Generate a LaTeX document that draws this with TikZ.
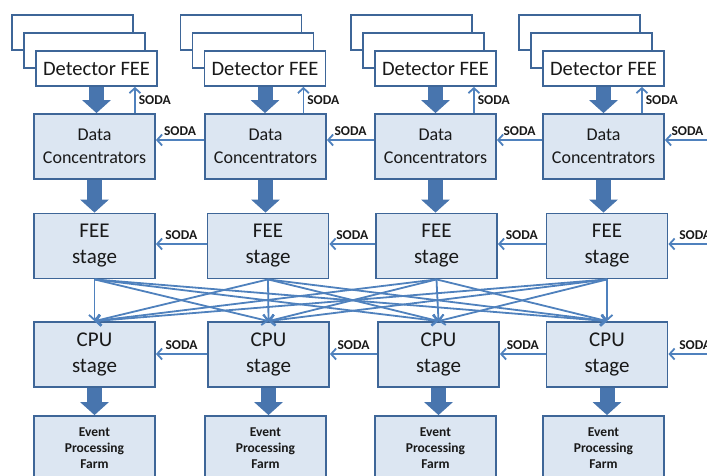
\documentclass[tikz,border=0pt]{standalone}
\usepackage{fontspec}
\setmainfont{Carlito}
\usetikzlibrary{arrows.meta, calc, positioning}
\definecolor{edgeblue}{RGB}{62, 102, 152}
\definecolor{linkblue}{RGB}{79, 129, 189}
\definecolor{fatblue}{RGB}{72, 117, 174}
\definecolor{shadeblue}{RGB}{220, 230, 242}
\definecolor{inkgray}{RGB}{25, 25, 25}

\begin{document}
\begin{tikzpicture}[x=1pt, y=-1pt,
	dbox/.style={draw=edgeblue, fill=white, line width=1.8pt,
		minimum width=121pt, minimum height=35pt, inner sep=0pt,
		text=inkgray, font=\fontsize{20.5}{24}\selectfont},
	bbox/.style={draw=edgeblue, fill=shadeblue, line width=1.8pt,
		minimum width=121pt, minimum height=65pt, inner sep=0pt,
		text=inkgray, align=center},
	dcfont/.style={font=\fontsize{18}{23}\selectfont},
	stfont/.style={font=\fontsize{21}{26}\selectfont},
	epfont/.style={font=\bfseries\fontsize{13.5}{16}\selectfont},
	soda/.style={font=\bfseries\fontsize{13.5}{15}\selectfont, inner sep=0pt, text=inkgray},
	arr/.style={-{Triangle[length=13pt, width=28pt]}, line width=15pt, fatblue},
	sarr/.style={-{Straight Barb[length=5pt, width=11pt]}, line width=1.8pt, linkblue}
	]
	\useasboundingbox (0,0) rectangle (707,475);
	\clip (0,0) rectangle (707,475);
	% detector front ends, stacked
	\node[dbox] (det1c) at (72.5, 32.5) {};
	\node[dbox] (det1b) at (84.5, 50.5) {};
	\node[dbox] (det1)  at (96.5, 68.5) {Detector FEE};
	\node[dbox] (det2c) at (241, 32.5) {};
	\node[dbox] (det2b) at (253, 50.5) {};
	\node[dbox] (det2)  at (265, 68.5) {Detector FEE};
	\node[dbox] (det3c) at (411.5, 32.5) {};
	\node[dbox] (det3b) at (423.5, 50.5) {};
	\node[dbox] (det3)  at (435.5, 68.5) {Detector FEE};
	\node[dbox] (det4c) at (579.5, 32.5) {};
	\node[dbox] (det4b) at (591.5, 50.5) {};
	\node[dbox] (det4)  at (603.5, 68.5) {Detector FEE};
	% data concentrators
	\node[bbox, dcfont] (dc1) at (94.5, 146.5)  {Data\\Concentrators};
	\node[bbox, dcfont] (dc2) at (265.5, 146.5) {Data\\Concentrators};
	\node[bbox, dcfont] (dc3) at (435.5, 146.5) {Data\\Concentrators};
	\node[bbox, dcfont] (dc4) at (603.5, 146.5) {Data\\Concentrators};
	% FEE stages
	\node[bbox, stfont] (fee1) at (94.5, 246) {FEE\\stage};
	\node[bbox, stfont] (fee2) at (268, 246)  {FEE\\stage};
	\node[bbox, stfont] (fee3) at (436.5, 246) {FEE\\stage};
	\node[bbox, stfont] (fee4) at (607, 246)  {FEE\\stage};
	% CPU stages
	\node[bbox, stfont] (cpu1) at (94.5, 354.5)  {CPU\\stage};
	\node[bbox, stfont] (cpu2) at (268.5, 354.5) {CPU\\stage};
	\node[bbox, stfont] (cpu3) at (438.5, 354.5) {CPU\\stage};
	\node[bbox, stfont] (cpu4) at (607, 354.5)   {CPU\\stage};
	% event processing farms
	\node[bbox, epfont] (epf1) at (94.5, 448.5)  {Event\\Processing\\Farm};
	\node[bbox, epfont] (epf2) at (265.5, 448.5) {Event\\Processing\\Farm};
	\node[bbox, epfont] (epf3) at (435.5, 448.5) {Event\\Processing\\Farm};
	\node[bbox, epfont] (epf4) at (603.5, 448.5) {Event\\Processing\\Farm};
	% SODA from off the right edge
	\coordinate (rdc)  at (710, 140);
	\coordinate (rfee) at (722, 244);
	\coordinate (rcpu) at (722, 354);
	% data flow
	\draw[arr] (det1.south) -- (det1.south |- dc1.north);
	\draw[arr] (det2.south) -- (det2.south |- dc2.north);
	\draw[arr] (det3.south) -- (det3.south |- dc3.north);
	\draw[arr] (det4.south) -- (det4.south |- dc4.north);
	\draw[arr] (dc1.south) -- (dc1.south |- fee1.north);
	\draw[arr] (dc2.south) -- (dc2.south |- fee2.north);
	\draw[arr] (dc3.south) -- (dc3.south |- fee3.north);
	\draw[arr] (dc4.south) -- (dc4.south |- fee4.north);
	\draw[arr] (cpu1.south) -- (cpu1.south |- epf1.north);
	\draw[arr] (cpu2.south) -- (cpu2.south |- epf2.north);
	\draw[arr] (cpu3.south) -- (cpu3.south |- epf3.north);
	\draw[arr] (cpu4.south) -- (cpu4.south |- epf4.north);
	% switching network
	\draw[sarr] (fee1.south) -- (cpu1.north);
	\draw[sarr] (fee1.south) -- (cpu2.north);
	\draw[sarr] (fee1.south) -- (cpu3.north);
	\draw[sarr] (fee1.south) -- (cpu4.north);
	\draw[sarr] (fee2.south) -- (cpu1.north);
	\draw[sarr] (fee2.south) -- (cpu2.north);
	\draw[sarr] (fee2.south) -- (cpu3.north);
	\draw[sarr] (fee2.south) -- (cpu4.north);
	\draw[sarr] (fee3.south) -- (cpu1.north);
	\draw[sarr] (fee3.south) -- (cpu2.north);
	\draw[sarr] (fee3.south) -- (cpu3.north);
	\draw[sarr] (fee3.south) -- (cpu4.north);
	\draw[sarr] (fee4.south) -- (cpu1.north);
	\draw[sarr] (fee4.south) -- (cpu2.north);
	\draw[sarr] (fee4.south) -- (cpu3.north);
	\draw[sarr] (fee4.south) -- (cpu4.north);
	% SODA up to the detectors
	\draw[sarr] ([xshift=-23pt]det1.south east |- dc1.north) -- ([xshift=-23pt]det1.south east)
		node[soda, midway, right=3pt] {SODA};
	\draw[sarr] ([xshift=-23pt]det2.south east |- dc2.north) -- ([xshift=-23pt]det2.south east)
		node[soda, midway, right=3pt] {SODA};
	\draw[sarr] ([xshift=-23pt]det3.south east |- dc3.north) -- ([xshift=-23pt]det3.south east)
		node[soda, midway, right=3pt] {SODA};
	\draw[sarr] ([xshift=-23pt]det4.south east |- dc4.north) -- ([xshift=-23pt]det4.south east)
		node[soda, midway, right=3pt] {SODA};
	% SODA along the rows
	\draw[sarr] (rdc) -- (rdc -| dc4.east) node[soda, midway, above=4pt] {SODA};
	\draw[sarr] (rdc -| dc4.west) -- (rdc -| dc3.east) node[soda, midway, above=4pt] {SODA};
	\draw[sarr] (rdc -| dc3.west) -- (rdc -| dc2.east) node[soda, midway, above=4pt] {SODA};
	\draw[sarr] (rdc -| dc2.west) -- (rdc -| dc1.east) node[soda, midway, above=4pt] {SODA};
	\draw[sarr] (rfee) -- (rfee -| fee4.east) node[soda, midway, above=4pt] {SODA};
	\draw[sarr] (rfee -| fee4.west) -- (rfee -| fee3.east) node[soda, midway, above=4pt] {SODA};
	\draw[sarr] (rfee -| fee3.west) -- (rfee -| fee2.east) node[soda, midway, above=4pt] {SODA};
	\draw[sarr] (rfee -| fee2.west) -- (rfee -| fee1.east) node[soda, midway, above=4pt] {SODA};
	\draw[sarr] (rcpu) -- (rcpu -| cpu4.east) node[soda, midway, above=4pt] {SODA};
	\draw[sarr] (rcpu -| cpu4.west) -- (rcpu -| cpu3.east) node[soda, midway, above=4pt] {SODA};
	\draw[sarr] (rcpu -| cpu3.west) -- (rcpu -| cpu2.east) node[soda, midway, above=4pt] {SODA};
	\draw[sarr] (rcpu -| cpu2.west) -- (rcpu -| cpu1.east) node[soda, midway, above=4pt] {SODA};
\end{tikzpicture}
\end{document}
